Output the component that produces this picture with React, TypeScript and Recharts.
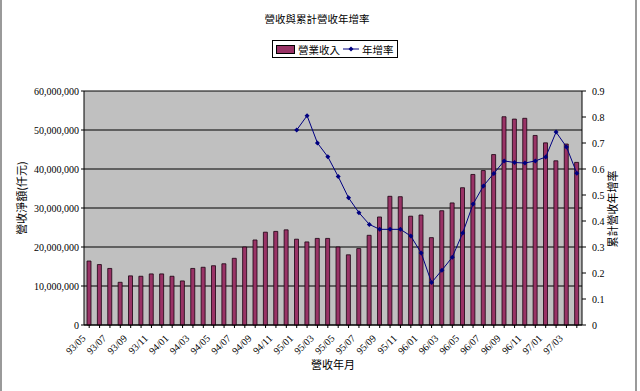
import React from 'react';
import { ComposedChart, Bar, Line, XAxis, YAxis, CartesianGrid, Legend } from 'recharts';

const months = [
  '93/05', '93/06', '93/07', '93/08', '93/09', '93/10', '93/11', '93/12',
  '94/01', '94/02', '94/03', '94/04', '94/05', '94/06', '94/07', '94/08', '94/09', '94/10', '94/11', '94/12',
  '95/01', '95/02', '95/03', '95/04', '95/05', '95/06', '95/07', '95/08', '95/09', '95/10', '95/11', '95/12',
  '96/01', '96/02', '96/03', '96/04', '96/05', '96/06', '96/07', '96/08', '96/09', '96/10', '96/11', '96/12',
  '97/01', '97/02', '97/03', '97/04',
];

// 營業收入 (仟元)
const revenue = [
  16400000, 15500000, 14500000, 10950000, 12600000, 12500000, 13100000, 13100000,
  12500000, 11300000, 14500000, 14800000, 15200000, 15700000, 17100000, 20000000, 21800000, 23800000, 24000000, 24400000,
  22000000, 21300000, 22200000, 22200000, 20000000, 18000000, 19600000, 23000000, 27700000, 33000000, 32900000, 27900000,
  28200000, 22400000, 29300000, 31300000, 35200000, 38600000, 39600000, 43700000, 53400000, 52800000, 53000000, 48600000,
  46700000, 42100000, 46400000, 41700000,
];

// 年增率, starts at 95/01
const growthStart = '95/01';
const growth = [
  0.75, 0.805, 0.7, 0.647, 0.571, 0.489, 0.432, 0.387, 0.368, 0.368, 0.368, 0.342,
  0.277, 0.163, 0.211, 0.261, 0.354, 0.465, 0.535, 0.583, 0.631, 0.625, 0.623, 0.631,
  0.646, 0.742, 0.685, 0.584,
];

const leftTicks = [0, 10000000, 20000000, 30000000, 40000000, 50000000, 60000000];
const rightTicks = [0, 0.1, 0.2, 0.3, 0.4, 0.5, 0.6, 0.7, 0.8, 0.9];

const startIdx = months.indexOf(growthStart);
const data = months.map((m, i) => ({
  month: m,
  revenue: revenue[i],
  growth: i >= startIdx ? growth[i - startIdx] : null,
}));

const cjk = '"Noto Sans CJK TC", "Noto Sans CJK SC", sans-serif';
const serif = '"Liberation Serif", "DejaVu Serif", serif';
const BAR = '#993366';
const LINE = '#000080';

const MonthTick = (props: any) => {
  const { x, y, payload, index } = props;
  if (index % 2 !== 0) return null;
  const tx = x - 3;
  const ty = y + 9;
  return (
    <text
      x={tx}
      y={ty}
      transform={`rotate(-45, ${tx}, ${ty})`}
      textAnchor="end"
      fontSize={10}
      fontFamily={serif}
      fill="#000"
    >
      {payload.value}
    </text>
  );
};

const Diamond = (props: any) => {
  const { cx, cy } = props;
  if (cx == null || cy == null || props.value == null) return null;
  return <path d={`M${cx},${cy - 2.5}L${cx + 2.5},${cy}L${cx},${cy + 2.5}L${cx - 2.5},${cy}Z`} fill={LINE} />;
};

const LegendBox = () => (
  <div
    style={{
      display: 'flex',
      alignItems: 'center',
      border: '1px solid #000',
      background: '#fff',
      height: 16,
      padding: '0 3px 0 3px',
      fontFamily: cjk,
      fontSize: 10.5,
      color: '#000',
      whiteSpace: 'nowrap',
    }}
  >
    <span style={{ display: 'inline-block', width: 17, height: 7, background: BAR, border: '1px solid #000', marginRight: 3 }} />
    <span>營業收入</span>
    <svg width={16} height={8} style={{ margin: '0 3px' }}>
      <line x1={0} y1={4} x2={16} y2={4} stroke={LINE} strokeWidth={1} />
      <path d="M8,1.5L10.5,4L8,6.5L5.5,4Z" fill={LINE} />
    </svg>
    <span>年增率</span>
  </div>
);

export default function App() {
  return (
    <div style={{ position: 'absolute', left: 0, top: 0, width: 640, height: 391, background: '#fff' }}>
      <div style={{ position: 'absolute', left: 0, top: 0, width: 1, height: 391, borderLeft: '2px solid #9a9a9a' }} />
      <div style={{ position: 'absolute', left: 635, top: 0, width: 1, height: 391, borderLeft: '2px solid #9a9a9a' }} />
      <div
        style={{
          position: 'absolute',
          left: 0,
          width: 634,
          top: 11,
          textAlign: 'center',
          fontFamily: cjk,
          fontSize: 10.5,
          color: '#000',
        }}
      >
        營收與累計營收年增率
      </div>
      <ComposedChart
        width={640}
        height={391}
        data={data}
        margin={{ top: 73, right: 18, bottom: 26, left: 30 }}
        barCategoryGap={0}
      >
        <CartesianGrid yAxisId="left" vertical={false} stroke="#000" strokeOpacity={1} fill="#c0c0c0" fillOpacity={1} />
        <XAxis
          dataKey="month"
          interval={0}
          height={40}
          tick={<MonthTick />}
          tickSize={3}
          tickMargin={2}
          stroke="#000"
          label={{
            content: (p: any) => (
              <text
                x={p.viewBox.x + p.viewBox.width / 2}
                y={p.viewBox.y + 44}
                textAnchor="middle"
                fontSize={11}
                fontFamily={cjk}
                fill="#000"
              >
                營收年月
              </text>
            ),
          }}
        />
        <YAxis
          yAxisId="left"
          width={54}
          domain={[0, 60000000]}
          ticks={leftTicks}
          tickFormatter={(v: number) => v.toLocaleString('en-US')}
          tick={{ fontSize: 10, fontFamily: serif, fill: '#000' }}
          tickSize={3}
          tickMargin={2}
          stroke="#000"
          label={{
            content: (p: any) => {
              const cx = p.viewBox.x - 9;
              const cy = p.viewBox.y + p.viewBox.height / 2 - 10;
              return (
                <text
                  x={cx}
                  y={cy}
                  transform={`rotate(-90, ${cx}, ${cy})`}
                  textAnchor="middle"
                  dominantBaseline="central"
                  fontSize={11}
                  fontFamily={cjk}
                  fill="#000"
                >
                  營收淨額(仟元)
                </text>
              );
            },
          }}
        />
        <YAxis
          yAxisId="right"
          orientation="right"
          width={40}
          domain={[0, 0.9]}
          ticks={rightTicks}
          tick={{ fontSize: 10, fontFamily: serif, fill: '#000' }}
          tickSize={4}
          tickMargin={6}
          stroke="#000"
          label={{
            content: (p: any) => {
              const cx = p.viewBox.x + 30;
              const cy = p.viewBox.y + p.viewBox.height / 2 + 1;
              return (
                <text
                  x={cx}
                  y={cy}
                  transform={`rotate(-90, ${cx}, ${cy})`}
                  textAnchor="middle"
                  dominantBaseline="central"
                  fontSize={11}
                  fontFamily={cjk}
                  fill="#000"
                >
                  累計營收年增率
                </text>
              );
            },
          }}
        />
        <Legend
          verticalAlign="top"
          wrapperStyle={{ position: 'absolute', top: 40, left: 272, width: 'auto' }}
          content={() => <LegendBox />}
        />
        <Bar
          yAxisId="left"
          dataKey="revenue"
          name="營業收入"
          fill={BAR}
          stroke="#1a0010"
          strokeWidth={0.8}
          barSize={4}
          isAnimationActive={false}
        />
        <Line
          yAxisId="right"
          dataKey="growth"
          name="年增率"
          type="linear"
          stroke={LINE}
          strokeWidth={1}
          dot={<Diamond />}
          activeDot={false}
          connectNulls={false}
          isAnimationActive={false}
        />
      </ComposedChart>
    </div>
  );
}
